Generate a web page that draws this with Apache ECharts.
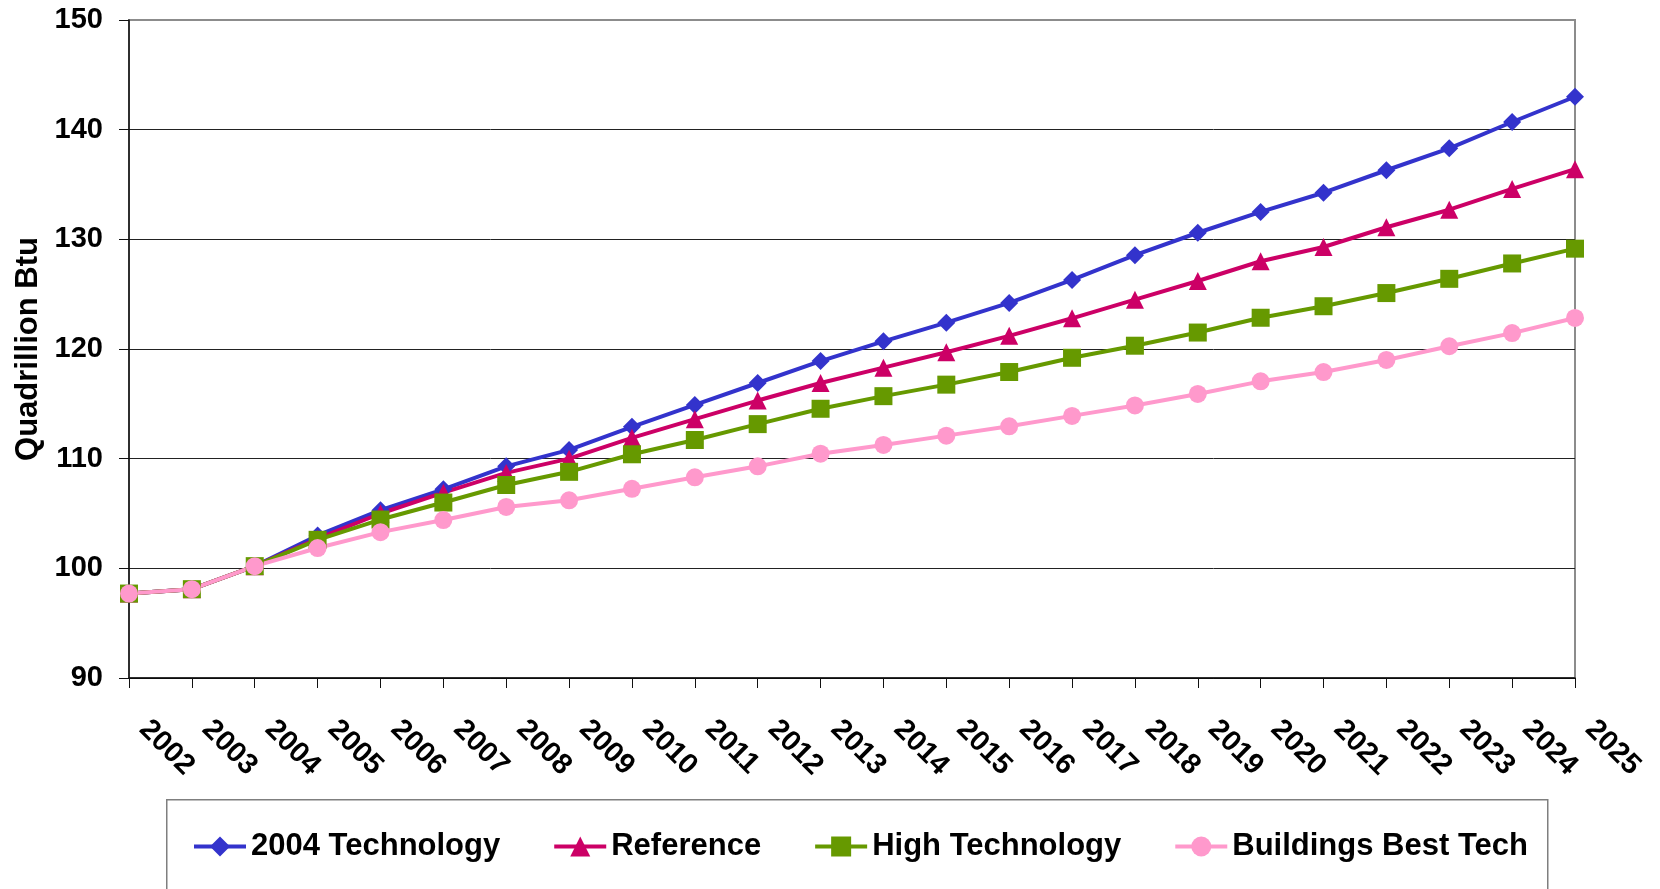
<!DOCTYPE html>
<html>
<head>
<meta charset="utf-8">
<script src="https://cdn.jsdelivr.net/npm/echarts@6/dist/echarts.min.js"></script>
<style>
  html, body { margin: 0; padding: 0; background: #fff; }
  #chart { width: 1660px; height: 889px; }
</style>
</head>
<body>
<div id="chart"></div>
<script>
// Projected delivered energy consumption, quadrillion Btu, by technology case
const years = ['2002','2003','2004','2005','2006','2007','2008','2009','2010','2011','2012','2013',
               '2014','2015','2016','2017','2018','2019','2020','2021','2022','2023','2024','2025'];

const tech2004 = [97.7, 98.1, 100.2, 103.0, 105.3, 107.2, 109.3, 110.8, 112.9, 114.9, 116.9, 118.9,
                  120.7, 122.4, 124.2, 126.3, 128.55, 130.6, 132.5, 134.25, 136.3, 138.3, 140.7, 143.0];
const reference = [97.7, 98.1, 100.2, 102.7, 105.0, 106.9, 108.7, 110.0, 111.9, 113.6, 115.3, 116.9,
                   118.3, 119.7, 121.2, 122.8, 124.5, 126.2, 128.0, 129.3, 131.1, 132.7, 134.6, 136.4];
const highTech = [97.7, 98.1, 100.2, 102.6, 104.45, 106.0, 107.6, 108.8, 110.4, 111.7, 113.15, 114.55,
                  115.7, 116.75, 117.9, 119.2, 120.3, 121.5, 122.85, 123.9, 125.1, 126.4, 127.8, 129.15];
const bestTech = [97.7, 98.1, 100.2, 101.85, 103.3, 104.4, 105.6, 106.2, 107.25, 108.3, 109.3, 110.45,
                  111.25, 112.1, 112.95, 113.9, 114.85, 115.9, 117.05, 117.9, 119.0, 120.25, 121.45, 122.83];

const seriesNames = ['2004 Technology', 'Reference', 'High Technology', 'Buildings Best Tech'];
const yTicks = { min: 90, max: 150, interval: 10 };

const FONT = '"Liberation Sans", Arial, Helvetica, sans-serif';

function lineSeries(name, data, color, symbol) {
  return {
    name: name,
    type: 'line',
    data: data,
    symbol: symbol,
    symbolSize: 18,
    showAllSymbol: true,
    lineStyle: { color: color, width: 4 },
    itemStyle: { color: color, borderColor: color, borderWidth: 0 },
    emphasis: { disabled: true },
    animation: false
  };
}

const chart = echarts.init(document.getElementById('chart'), null, { renderer: 'canvas' });

chart.setOption({
  backgroundColor: '#ffffff',
  animation: false,
  textStyle: { fontFamily: FONT },
  grid: {
    left: 129, right: 85, top: 20, bottom: 211,
    show: true,
    borderColor: '#8c8c8c',
    borderWidth: 2,
    backgroundColor: 'transparent'
  },
  graphic: [{
    type: 'rect',
    left: 166, top: 799,
    shape: { width: 1381, height: 200 },
    style: { fill: '#ffffff', stroke: '#7f7f7f', lineWidth: 1.5 },
    z: 0
  }],
  legend: {
    data: seriesNames,
    left: 192, top: 831,
    padding: 0,
    itemGap: 52,
    itemWidth: 52,
    itemHeight: 25,
    lineStyle: { width: 4 },
    textStyle: { fontFamily: FONT, fontWeight: 'bold', fontSize: 31, color: '#000', lineHeight: 31 },
    selectedMode: false
  },
  xAxis: {
    type: 'category',
    data: years,
    boundaryGap: false,
    axisLine: { lineStyle: { color: '#111', width: 1.5 } },
    axisTick: { show: true, length: 10, inside: false, lineStyle: { color: '#111', width: 1 } },
    axisLabel: {
      interval: 0,
      rotate: -45,
      margin: 32,
      padding: [0, 0, 0, 21],
      fontFamily: FONT, fontWeight: 'bold', fontSize: 29, color: '#000'
    },
    splitLine: { show: false }
  },
  yAxis: {
    type: 'value',
    min: yTicks.min, max: yTicks.max, interval: yTicks.interval,
    name: 'Quadrillion Btu',
    nameLocation: 'middle',
    nameGap: 84,
    nameTextStyle: { fontFamily: FONT, fontWeight: 'bold', fontSize: 31, color: '#000' },
    axisLine: { show: true, lineStyle: { color: '#111', width: 1.5 } },
    axisTick: { show: true, length: 10, inside: false, lineStyle: { color: '#111', width: 1 } },
    axisLabel: { margin: 26, fontFamily: FONT, fontWeight: 'bold', fontSize: 29, color: '#000' },
    splitLine: {
      show: true,
      lineStyle: { color: ['#000', '#222', '#222', '#222', '#222', '#222', '#8c8c8c'], width: 1 }
    }
  },
  series: [
    lineSeries(seriesNames[0], tech2004, '#3333CC', 'diamond'),
    lineSeries(seriesNames[1], reference, '#CC0066', 'triangle'),
    lineSeries(seriesNames[2], highTech, '#669900', 'rect'),
    lineSeries(seriesNames[3], bestTech, '#FF99CC', 'circle')
  ]
});
</script>
</body>
</html>
